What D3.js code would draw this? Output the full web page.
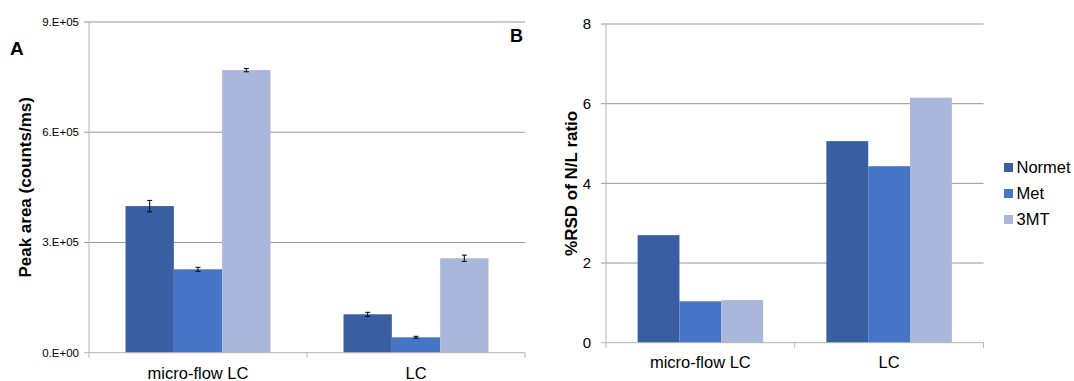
<!DOCTYPE html>
<html>
<head>
<meta charset="utf-8">
<script src="https://cdn.jsdelivr.net/npm/d3@7"></script>
<style>
  body { margin: 0; background: #fff; }
  svg text { font-family: Arial, 'Liberation Sans', sans-serif; fill: #000; }
</style>
</head>
<body>
<svg id="chart" width="1074" height="381"></svg>
<script>
const categories = ['micro-flow LC', 'LC'];
const seriesNames = ['Normet', 'Met', '3MT'];
const seriesColors = ['#3A5EA2', '#4674C6', '#A9B7DB'];

// panel A: peak area (counts/ms) with error bars
const peakArea = [
  [399000, 104500],   // Normet
  [227000, 41900],    // Met
  [769000, 257000]    // 3MT
];
const peakAreaErr = [
  [15500, 5400],
  [5400, 2700],
  [4500, 8600]
];
const peakTicks = [0, 300000, 600000, 900000];
const peakTickLabels = ['0.E+00', '3.E+05', '6.E+05', '9.E+05'];

// panel B: %RSD of N/L ratio
const rsd = [
  [2.70, 5.06],
  [1.04, 4.43],
  [1.07, 6.15]
];
const rsdTicks = [0, 2, 4, 6, 8];

const svg = d3.select('#chart');

function drawPanel(opts) {
  const { left, right, top, bottom, yMax, values, errors, ticks, tickLabels, tickFont, tickGap, title, titleX, catBaseline } = opts;

  const x0 = d3.scaleBand().domain(categories).range([left, right]);
  const bw = x0.bandwidth();
  const x1 = d3.scaleBand().domain(seriesNames).range([bw * 0.1675, bw * 0.8325]);
  const y = d3.scaleLinear().domain([0, yMax]).range([bottom, top]);

  const g = svg.append('g');

  // gridlines
  g.selectAll('.grid')
    .data(ticks.filter(t => t > 0))
    .enter().append('line')
    .attr('x1', left - 5).attr('x2', right)
    .attr('y1', d => y(d)).attr('y2', d => y(d))
    .attr('stroke', '#979797').attr('stroke-width', 1);

  // bars
  seriesNames.forEach((s, si) => {
    g.selectAll(`.bar${si}`)
      .data(categories)
      .enter().append('rect')
      .attr('x', c => x0(c) + x1(s))
      .attr('width', x1.bandwidth())
      .attr('y', (c, ci) => y(values[si][ci]))
      .attr('height', (c, ci) => bottom - y(values[si][ci]))
      .attr('fill', seriesColors[si]);

    if (errors) {
      categories.forEach((c, ci) => {
        const cx = x0(c) + x1(s) + x1.bandwidth() / 2;
        const v = values[si][ci], e = errors[si][ci];
        const eg = g.append('g').attr('stroke', '#000').attr('stroke-width', 1);
        eg.append('line').attr('x1', cx).attr('x2', cx).attr('y1', y(v + e)).attr('y2', y(v - e));
        eg.append('line').attr('x1', cx - 2.5).attr('x2', cx + 2.5).attr('y1', y(v + e)).attr('y2', y(v + e));
        eg.append('line').attr('x1', cx - 2.5).attr('x2', cx + 2.5).attr('y1', y(v - e)).attr('y2', y(v - e));
      });
    }
  });

  // axes lines
  g.append('line').attr('x1', left).attr('x2', left).attr('y1', top).attr('y2', bottom + 5)
    .attr('stroke', '#B4B4B4');
  g.append('line').attr('x1', left - 5).attr('x2', right).attr('y1', bottom).attr('y2', bottom)
    .attr('stroke', '#B4B4B4');
  g.selectAll('.xtick')
    .data(categories.slice(1).map(c => x0(c)).concat([right]))
    .enter().append('line')
    .attr('x1', d => d).attr('x2', d => d)
    .attr('y1', bottom).attr('y2', bottom + 5)
    .attr('stroke', '#B4B4B4');

  // y tick labels
  g.selectAll('.ylab')
    .data(ticks)
    .enter().append('text')
    .attr('x', left - tickGap)
    .attr('y', d => y(d))
    .attr('dy', '0.35em')
    .attr('text-anchor', 'end')
    .style('font-size', tickFont + 'px')
    .text((d, i) => tickLabels ? tickLabels[i] : d);

  // category labels
  g.selectAll('.xlab')
    .data(categories)
    .enter().append('text')
    .attr('x', c => x0(c) + bw / 2)
    .attr('y', catBaseline)
    .attr('text-anchor', 'middle')
    .style('font-size', '16.5px')
    .text(c => c);

  // y title
  g.append('text')
    .attr('transform', `translate(${titleX},${(top + bottom) / 2}) rotate(-90)`)
    .attr('text-anchor', 'middle')
    .attr('dy', '0.35em')
    .style('font-size', '17px')
    .style('font-weight', 'bold')
    .text(title);
}

drawPanel({
  left: 89, right: 525, top: 22, bottom: 352.7, yMax: 900000,
  values: peakArea, errors: peakAreaErr,
  ticks: peakTicks, tickLabels: peakTickLabels, tickFont: 11.5, tickGap: 10,
  title: 'Peak area (counts/ms)', titleX: 25, catBaseline: 379
});

drawPanel({
  left: 606, right: 983.5, top: 24, bottom: 342.7, yMax: 8,
  values: rsd, errors: null,
  ticks: rsdTicks, tickLabels: null, tickFont: 15, tickGap: 15,
  title: '%RSD of N/L ratio', titleX: 571, catBaseline: 368
});

// panel letters
svg.append('text').attr('x', 10).attr('y', 55).style('font-size', '19px').style('font-weight', 'bold').text('A');
svg.append('text').attr('x', 510).attr('y', 42).style('font-size', '18px').style('font-weight', 'bold').text('B');

// legend
const legend = svg.append('g').attr('transform', 'translate(1004,163)');
const items = legend.selectAll('.item')
  .data(seriesNames)
  .enter().append('g')
  .attr('transform', (d, i) => `translate(0,${i * 26})`);
items.append('rect').attr('width', 9).attr('height', 9).attr('fill', (d, i) => seriesColors[i]);
items.append('text')
  .attr('x', 12.5).attr('y', 4.5).attr('dy', '0.36em')
  .style('font-size', '16.5px')
  .text(d => d);
</script>
</body>
</html>
